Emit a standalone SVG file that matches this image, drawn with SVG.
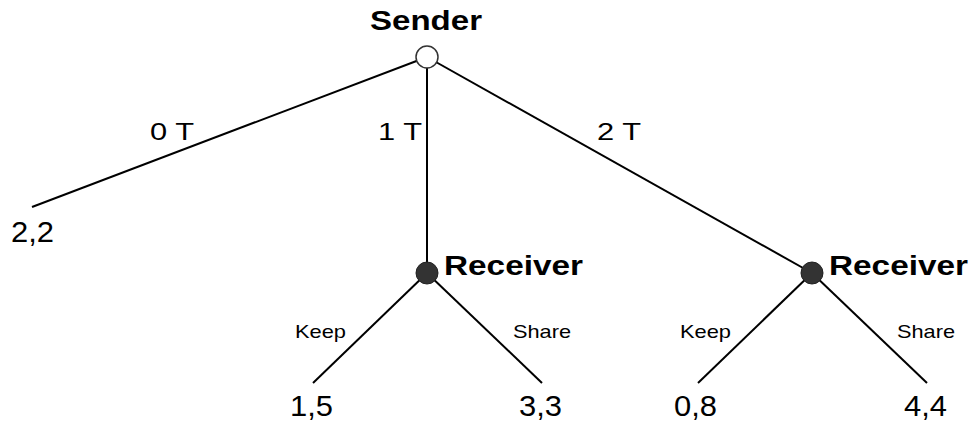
<svg xmlns="http://www.w3.org/2000/svg" width="974" height="421" viewBox="0 0 974 421">
<style>
.edge{stroke:#000;stroke-width:2;fill:none}
.t{font-family:"Liberation Sans",Arial,sans-serif;fill:#000}
.b{font-weight:bold;font-size:27px}
.lab{font-size:24px}
.pay{font-size:29px}
.act{font-size:18.5px}
</style>
<rect width="974" height="421" fill="#fff"/>
<g id="connectors">
<line class="edge" x1="427" y1="57" x2="32" y2="207"/>
<line class="edge" x1="427" y1="57" x2="427" y2="273"/>
<line class="edge" x1="427" y1="57" x2="812" y2="273"/>
<line class="edge" x1="427" y1="273" x2="313" y2="383"/>
<line class="edge" x1="427" y1="273" x2="542" y2="383"/>
<line class="edge" x1="812" y1="273" x2="698" y2="383"/>
<line class="edge" x1="812" y1="273" x2="927" y2="383"/>
<text class="t lab" x="150" y="140" textLength="44" lengthAdjust="spacingAndGlyphs">0 T</text>
<text class="t lab" x="378" y="140" textLength="44" lengthAdjust="spacingAndGlyphs">1 T</text>
<text class="t lab" x="597" y="140" textLength="44" lengthAdjust="spacingAndGlyphs">2 T</text>
<text class="t act" x="295" y="338" textLength="51" lengthAdjust="spacingAndGlyphs">Keep</text>
<text class="t act" x="513" y="338" textLength="58" lengthAdjust="spacingAndGlyphs">Share</text>
<text class="t act" x="680" y="338" textLength="51" lengthAdjust="spacingAndGlyphs">Keep</text>
<text class="t act" x="897" y="338" textLength="58" lengthAdjust="spacingAndGlyphs">Share</text>
</g>
<g id="sender">
<circle cx="427" cy="57" r="11" fill="#fff" stroke="#333" stroke-width="1.5"/>
<text class="t b" x="370" y="30" textLength="112" lengthAdjust="spacingAndGlyphs">Sender</text>
</g>
<g id="receiver1">
<circle cx="427" cy="273" r="11" fill="#333" stroke="#222" stroke-width="1"/>
<text class="t b" x="444" y="275" textLength="139" lengthAdjust="spacingAndGlyphs">Receiver</text>
</g>
<g id="receiver2">
<circle cx="812" cy="273" r="11" fill="#333" stroke="#222" stroke-width="1"/>
<text class="t b" x="829" y="275" textLength="139" lengthAdjust="spacingAndGlyphs">Receiver</text>
</g>
<g id="leaf0"><text class="t pay" x="11" y="242" textLength="43" lengthAdjust="spacingAndGlyphs">2,2</text></g>
<g id="leaf1"><text class="t pay" x="290" y="416" textLength="43" lengthAdjust="spacingAndGlyphs">1,5</text></g>
<g id="leaf2"><text class="t pay" x="519" y="416" textLength="43" lengthAdjust="spacingAndGlyphs">3,3</text></g>
<g id="leaf3"><text class="t pay" x="674" y="416" textLength="43" lengthAdjust="spacingAndGlyphs">0,8</text></g>
<g id="leaf4"><text class="t pay" x="904" y="416" textLength="43" lengthAdjust="spacingAndGlyphs">4,4</text></g>
</svg>
